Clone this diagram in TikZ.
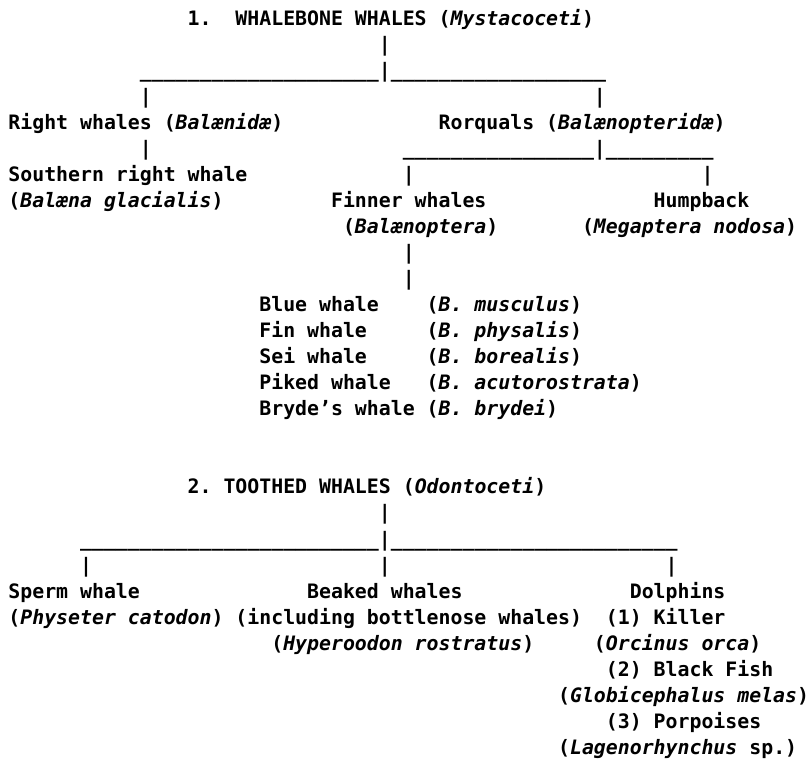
\documentclass[tikz,border=0pt]{standalone}
\usepackage{fontspec}
\setmainfont{DejaVu Sans Mono}
\ExplSyntaxOn
\cs_new:Npn \usrep #1 { \prg_replicate:nn {#1} {\textunderscore} }
\ExplSyntaxOff
% \tx{column}{row}{name}{text}
\newcommand{\tx}[4]{\node[txt] (#3) at ({8.4+11.95*#1},{-(25+26.05*#2)}) {#4};}
\begin{document}
\begin{tikzpicture}[x=0.75pt,y=0.75pt,
  txt/.style={inner sep=0pt, outer sep=0pt, anchor=base west,
    font=\fontsize{14.89}{18}\selectfont\bfseries\frenchspacing}]
\useasboundingbox (0,0) rectangle (810,-760);
% ---------- 1. Whalebone whales ----------
\tx{15}{0}{numA}{1.}
\tx{19}{0}{titleA}{WHALEBONE WHALES (\textit{Mystacoceti})}
\tx{31}{1}{barA1}{|}
\tx{11}{2}{splitA}{\usrep{20}|\usrep{18}}
\tx{11}{3}{barA2}{|}
\tx{49}{3}{barA3}{|}
\tx{0}{4}{right}{Right whales (\textit{Balænidæ})}
\tx{36}{4}{rorq}{Rorquals (\textit{Balænopteridæ})}
\tx{11}{5}{barA4}{|}
\tx{33}{5}{splitB}{\usrep{16}|\usrep{9}}
\tx{0}{6}{south}{Southern right whale}
\tx{33}{6}{barB1}{|}
\tx{58}{6}{barB2}{|}
\tx{0}{7}{southsp}{(\textit{Balæna glacialis})}
\tx{27}{7}{finner}{Finner whales}
\tx{54}{7}{hump}{Humpback}
\tx{28}{8}{finnersp}{(\textit{Balænoptera})}
\tx{48}{8}{humpsp}{(\textit{Megaptera nodosa})}
\tx{33}{9}{barC1}{|}
\tx{33}{10}{barC2}{|}
\tx{21}{11}{blue}{Blue whale}
\tx{35}{11}{bluesp}{(\textit{B. musculus})}
\tx{21}{12}{fin}{Fin whale}
\tx{35}{12}{finsp}{(\textit{B. physalis})}
\tx{21}{13}{sei}{Sei whale}
\tx{35}{13}{seisp}{(\textit{B. borealis})}
\tx{21}{14}{piked}{Piked whale}
\tx{35}{14}{pikedsp}{(\textit{B. acutorostrata})}
\tx{21}{15}{bryde}{Bryde’s whale}
\tx{35}{15}{brydesp}{(\textit{B. brydei})}
% ---------- 2. Toothed whales ----------
\tx{15}{18}{titleB}{2. TOOTHED WHALES (\textit{Odontoceti})}
\tx{31}{19}{barD1}{|}
\tx{6}{20}{splitC}{\usrep{25}|\usrep{24}}
\tx{6}{21}{barD2}{|}
\tx{31}{21}{barD3}{|}
\tx{55}{21}{barD4}{|}
\tx{0}{22}{sperm}{Sperm whale}
\tx{25}{22}{beaked}{Beaked whales}
\tx{52}{22}{dolph}{Dolphins}
\tx{0}{23}{spermsp}{(\textit{Physeter catodon})}
\tx{19}{23}{beakednote}{(including bottlenose whales)}
\tx{50}{23}{killer}{(1) Killer}
\tx{22}{24}{beakedsp}{(\textit{Hyperoodon rostratus})}
\tx{49}{24}{killersp}{(\textit{Orcinus orca})}
\tx{50}{25}{black}{(2) Black Fish}
\tx{46}{26}{blacksp}{(\textit{Globicephalus melas})}
\tx{50}{27}{porp}{(3) Porpoises}
\tx{46}{28}{porpsp}{(\textit{Lagenorhynchus} sp.)}
\end{tikzpicture}
\end{document}
